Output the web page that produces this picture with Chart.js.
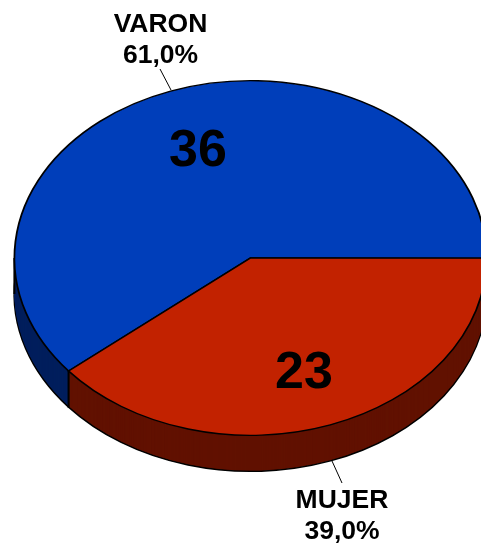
<!DOCTYPE html>
<html>
<head>
<meta charset="utf-8">
<style>
  html, body { margin: 0; padding: 0; background: #fff; overflow: hidden; }
  #wrap { position: relative; width: 488px; height: 548px; }
</style>
</head>
<body>
<div id="wrap"><canvas id="pieChart"></canvas></div>
<script src="https://cdn.jsdelivr.net/npm/chart.js@4"></script>
<script>
const categories = ['VARON', 'MUJER'];
const counts = [36, 23];
const percentLabels = ['61,0%', '39,0%'];
const topColors = ['#003EBA', '#C22200'];
const sideColors = ['#001F5D', '#611100'];

// 3D look: squash the circle into an ellipse and stack it for the rim
const squash = 178 / 237;
const depth = 36;
const centerY = 258;

function tilt(ctx, chart) {
    const cy = chart.getDatasetMeta(0).data[0].y;
    ctx.translate(0, centerY - cy * squash);
    ctx.scale(1, squash);
}

function drawRim(chart, ctx) {
    const arcs = chart.getDatasetMeta(0).data;
    for (let d = depth; d > 0; d--) {
        arcs.forEach(function(arc, i) {
            const opts = arc.options;
            arc.options = Object.assign({}, opts, {
                backgroundColor: sideColors[i],
                borderColor: '#000',
                borderWidth: d === depth ? 2 : 0
            });
            ctx.save();
            ctx.translate(0, d);
            tilt(ctx, chart);
            arc.draw(ctx);
            ctx.restore();
            arc.options = opts;
        });
    }
}

function edgeLine(ctx, x, y) {
    ctx.beginPath();
    ctx.moveTo(x, y);
    ctx.lineTo(x, y + depth);
    ctx.stroke();
}

const rimPlugin = {
    id: 'rim',
    beforeDatasetDraw(chart) {
        const ctx = chart.ctx;
        const arcs = chart.getDatasetMeta(0).data;
        drawRim(chart, ctx);

        // vertical edges of the rim: the left tangent and the slice boundary
        const arc = arcs[0];
        ctx.save();
        ctx.strokeStyle = '#000';
        ctx.lineWidth = 2;
        edgeLine(ctx, arc.x - arc.outerRadius, centerY);
        edgeLine(ctx, arc.x + Math.cos(arc.startAngle) * arc.outerRadius,
            centerY + Math.sin(arc.startAngle) * arc.outerRadius * squash);
        ctx.restore();

        ctx.save();
        tilt(ctx, chart);
    },
    afterDatasetDraw(chart) {
        chart.ctx.restore();
    }
};

const labelPlugin = {
    id: 'pieLabels',
    afterDraw(chart) {
        const ctx = chart.ctx;
        ctx.save();
        ctx.fillStyle = '#000';
        ctx.textAlign = 'center';
        ctx.textBaseline = 'middle';

        ctx.font = "bold 26.5px 'Liberation Sans', Arial, sans-serif";
        ctx.fillText(categories[0], 160.5, 24.5);
        ctx.fillText(percentLabels[0], 160.5, 56);
        ctx.fillText(categories[1], 342, 501);
        ctx.fillText(percentLabels[1], 342, 532);

        ctx.font = "bold 52px 'Liberation Sans', Arial, sans-serif";
        ctx.fillText(String(counts[0]), 198, 152);
        ctx.fillText(String(counts[1]), 304, 374);

        // leader lines
        ctx.strokeStyle = '#000';
        ctx.lineWidth = 1;
        ctx.beginPath();
        ctx.moveTo(160, 69);
        ctx.lineTo(171, 90);
        ctx.moveTo(332, 461);
        ctx.lineTo(342, 483);
        ctx.stroke();
        ctx.restore();
    }
};

const pieChart = new Chart(document.getElementById('pieChart').getContext('2d'), {
    type: 'pie',
    data: {
        labels: categories,
        datasets: [{
            data: counts,
            backgroundColor: topColors,
            borderColor: '#000',
            borderWidth: 1.8,
            borderJoinStyle: 'miter',
            clip: false
        }]
    },
    options: {
        responsive: true,
        maintainAspectRatio: false,
        animation: false,
        rotation: 230.4,
        layout: {
            padding: { left: 13.5, right: 0.5 }
        },
        plugins: {
            legend: { display: false },
            tooltip: { enabled: false }
        }
    },
    plugins: [rimPlugin, labelPlugin]
});
</script>
</body>
</html>
